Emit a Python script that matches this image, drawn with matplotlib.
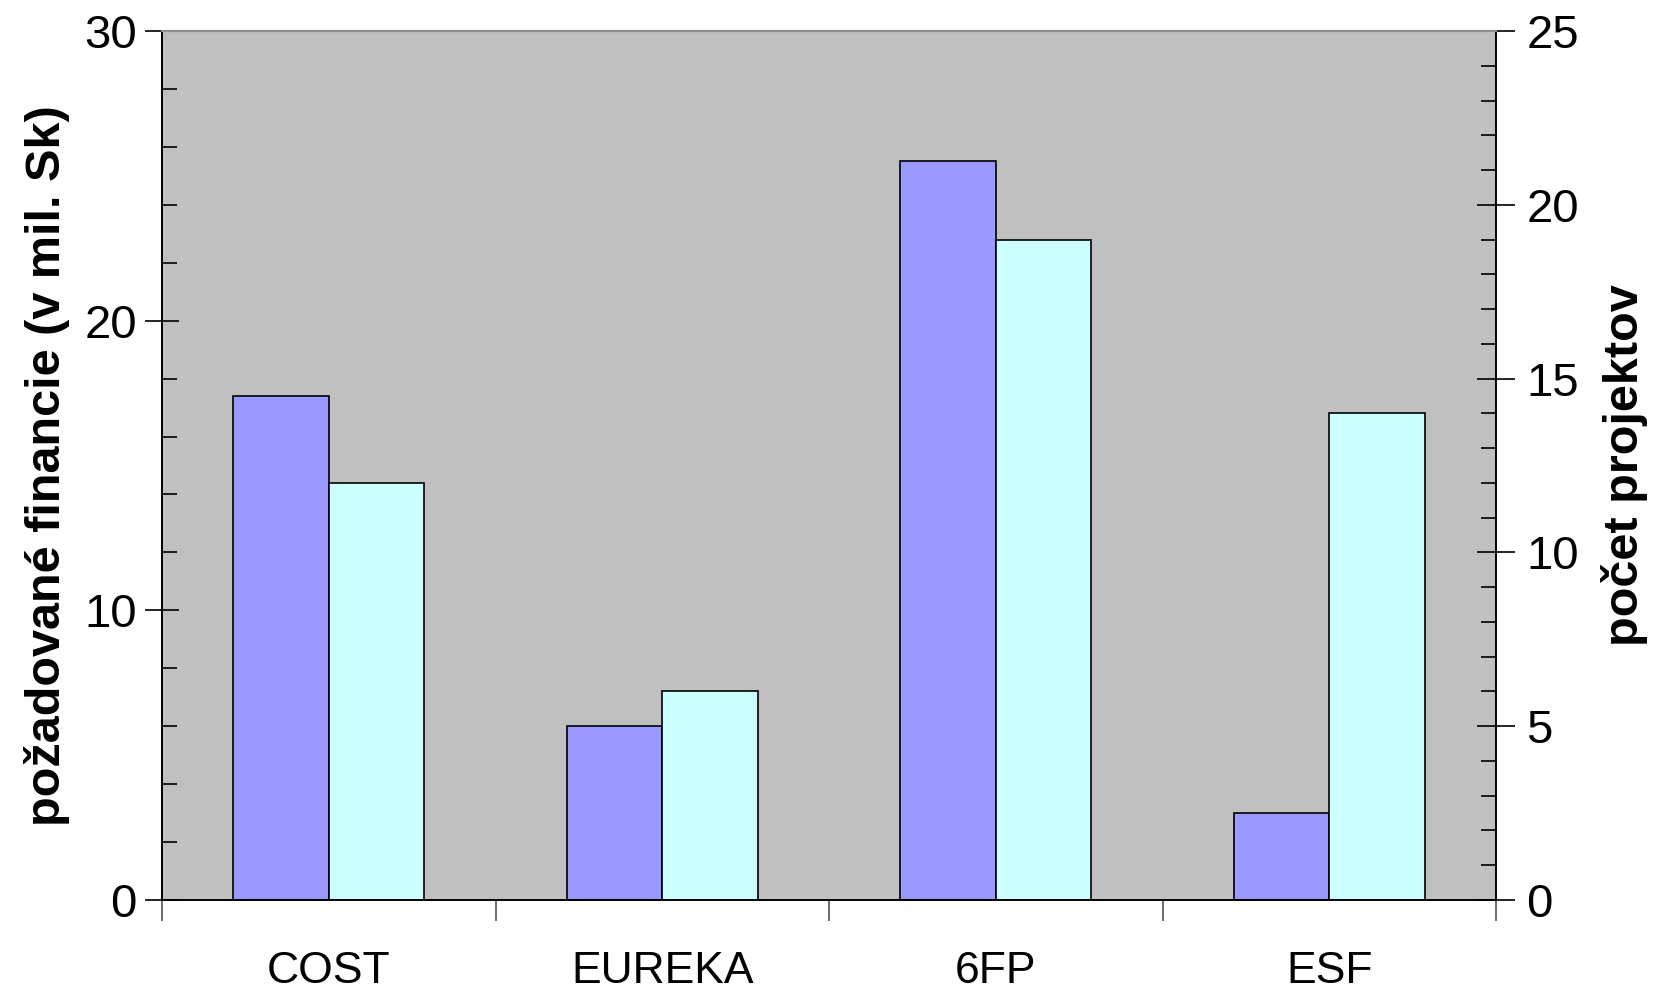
import numpy as np
import matplotlib
matplotlib.use("Agg")
import matplotlib.pyplot as plt
from matplotlib.ticker import MultipleLocator

plt.rcParams['font.family'] = ['Liberation Sans', 'DejaVu Sans']

# data
categories = ["COST", "EUREKA", "6FP", "ESF"]
financie = [17.4, 6.0, 25.5, 3.0]      # mil. Sk, left axis
projekty = [12, 6, 19, 14]             # count, right axis

x = np.arange(len(categories))
w = 0.286

fig = plt.figure(figsize=(16.54, 9.92), dpi=100)
ax = fig.add_axes([162 / 1654, 1 - 900 / 992, (1496 - 162) / 1654, (900 - 31) / 992])
ax2 = ax.twinx()

ax.set_facecolor("#C0C0C0")
ax2.patch.set_visible(False)

ax.bar(x - w / 2, financie, width=w, color="#9999FF", edgecolor="black", linewidth=1.2)
ax2.bar(x + w / 2, projekty, width=w, color="#CCFFFF", edgecolor="black", linewidth=1.2)

ax.set_xlim(-0.5, len(categories) - 0.5)
ax.set_ylim(0, 30)
ax2.set_ylim(0, 25)

# y ticks: major cross the spine, minor inside
ax.yaxis.set_major_locator(MultipleLocator(10))
ax.yaxis.set_minor_locator(MultipleLocator(2))
ax.tick_params(axis="y", which="major", direction="inout", length=24, width=1.2,
               labelsize=34, pad=6)
ax.tick_params(axis="y", which="minor", direction="in", length=11, width=1.2)

ax2.yaxis.set_major_locator(MultipleLocator(5))
ax2.yaxis.set_minor_locator(MultipleLocator(1))
ax2.tick_params(axis="y", which="major", direction="inout", length=28, width=1.2,
                labelsize=34, pad=8)
ax2.tick_params(axis="y", which="minor", direction="in", length=11, width=1.2)

# x ticks at category boundaries, labels at centers
ax.set_xticks(np.arange(len(categories) + 1) - 0.5)
ax.set_xticklabels([])
ax.set_xticks(x, minor=True)
ax.set_xticklabels(categories, minor=True, fontsize=32)
ax.tick_params(axis="x", which="major", direction="out", length=15, width=1.2, color="#555555")
ax.tick_params(axis="x", which="minor", length=0, pad=37)

for a in (ax, ax2):
    a.spines["top"].set_color("#909090")
    a.spines["top"].set_linewidth(1.5)
    for s in ("left", "right", "bottom"):
        a.spines[s].set_linewidth(1.2)

ax.set_ylabel("požadované financie (v mil. Sk)", fontsize=35, fontweight="bold", labelpad=10)
ax2.set_ylabel("počet projektov", fontsize=35, fontweight="bold", rotation=90, labelpad=16)

fig.savefig("out.png", dpi=100)
